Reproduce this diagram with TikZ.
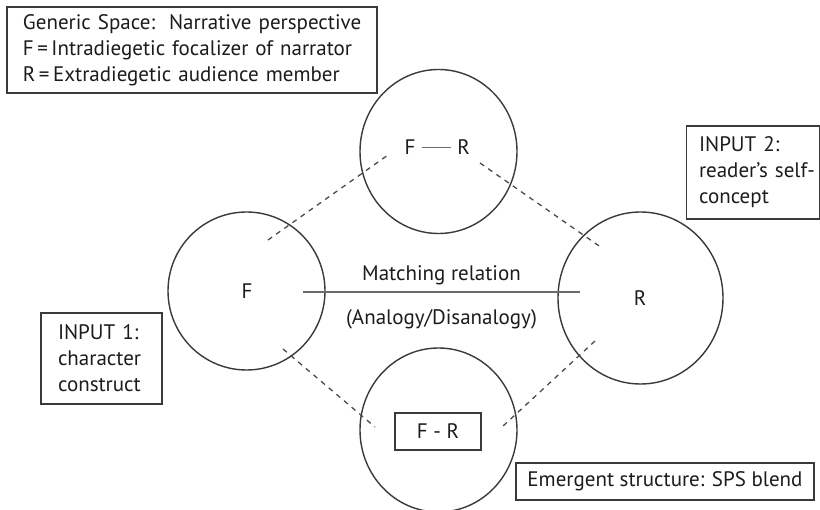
\documentclass[tikz,border=0pt]{standalone}
\usepackage{fontspec}
\setmainfont{PT Sans}
\usetikzlibrary{shapes.geometric}
\definecolor{ink}{HTML}{1C1C1C}
\definecolor{ln}{HTML}{3A3A3A}
\definecolor{dsh}{HTML}{4A4A4A}
\definecolor{mid}{HTML}{6A6A6A}
\tikzset{
  txt/.style={text=ink, font=\fontsize{21}{26}\selectfont, inner sep=0pt},
  boxnode/.style={draw=ln, line width=1.4pt, rectangle, inner sep=0pt, text=ink,
    font=\fontsize{21}{26}\selectfont},
  space/.style={draw=ln, line width=1.4pt, ellipse, inner sep=0pt},
  mapline/.style={draw=dsh, line width=1.3pt, dash pattern=on 5pt off 5pt},
}
\begin{document}
\begin{tikzpicture}[x=1pt,y=-1pt]
\useasboundingbox (0,0) rectangle (820,510);
\fill[white] (0,0) rectangle (820,510);

% circles
\node[space, minimum width=157pt, minimum height=164pt] (topc) at (438.5,151.5) {};
\node[space, minimum width=157pt, minimum height=158pt] (leftc) at (246.5,291) {};
\node[space, minimum width=165pt, minimum height=172pt] (rightc) at (640.5,298) {};
\node[space, minimum width=157pt, minimum height=164pt] (botc) at (438.5,430) {};

% labels in circles
\node[txt] (tf) at (410,147.5) {F};
\node[txt] (tr) at (463.5,147.5) {R};
\draw[mid, line width=1pt] ([xshift=6pt]tf.east) -- ([xshift=-6pt]tr.west);
\node[txt] (lf) at (247,291) {F};
\node[txt] (rr) at (640,298) {R};
\node[boxnode, minimum width=86pt, minimum height=37pt] (fr) at (438,431.5) {F - R};

% matching relation
\coordinate (m1) at (303,292);
\coordinate (m2) at (580,292);
\draw[mid, line width=1.8pt] (m1) -- (m2);
\node[txt, anchor=base] (mt) at (441.5,281) {Matching relation};
\node[txt, anchor=base] (mb) at (441.5,325) {(Analogy/Disanalogy)};

% dashed mappings
\coordinate (d1a) at (268,240);  \coordinate (d1b) at (388,155);
\coordinate (d2a) at (480,163);  \coordinate (d2b) at (602,248);
\coordinate (d3a) at (283,349);  \coordinate (d3b) at (375,427);
\coordinate (d4a) at (595,341);  \coordinate (d4b) at (502,427);
\draw[mapline] (d1a) -- (d1b);
\draw[mapline] (d2a) -- (d2b);
\draw[mapline] (d3a) -- (d3b);
\draw[mapline] (d4a) -- (d4b);

% boxes
\node[boxnode, minimum width=370pt, minimum height=86pt, text width=338pt, align=left] (gen) at (192,50)
  {\mbox{Generic Space:\ \ Narrative perspective}\\\mbox{F\,=\,Intradiegetic focalizer of narrator}\\\mbox{R\,=\,Extradiegetic audience member}};
\node[boxnode, minimum width=121pt, minimum height=91pt, text width=87pt, align=left] (in1) at (101.5,358.5)
  {\mbox{INPUT 1:}\\\mbox{character}\\\mbox{construct}};
\node[boxnode, minimum width=133pt, minimum height=93pt, text width=108pt, align=left] (in2) at (753,172.5)
  {\mbox{INPUT 2:}\\\mbox{reader’s self-}\\\mbox{concept}};
\node[boxnode, minimum width=298pt, minimum height=37pt] (emg) at (665,481.5)
  {Emergent structure: SPS blend};
\end{tikzpicture}
\end{document}
